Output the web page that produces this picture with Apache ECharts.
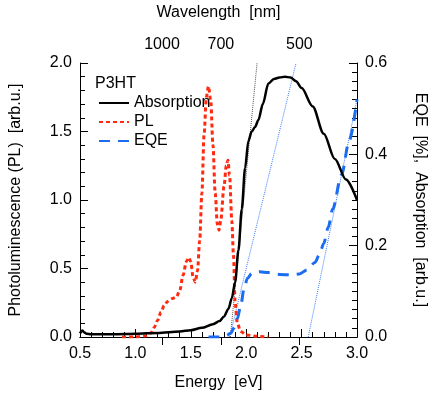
<!DOCTYPE html>
<html>
<head>
<meta charset="utf-8">
<script src="https://cdn.jsdelivr.net/npm/echarts@6/dist/echarts.min.js"></script>
<style>
  html, body { margin: 0; padding: 0; background: #fff; }
  #chart { width: 436px; height: 397px; }
</style>
</head>
<body>
<div id="chart"></div>
<script>
// absorption (right axis)
var absEnergy = [0.5, 0.52, 0.54, 0.56, 0.6, 0.8, 1.0, 1.2, 1.4, 1.5, 1.6, 1.7, 1.76, 1.8, 1.84, 1.87, 1.9, 1.93, 1.96, 1.99, 2.02, 2.05, 2.08, 2.11, 2.15, 2.2, 2.25, 2.3, 2.35, 2.4, 2.45, 2.5, 2.6, 2.7, 2.8, 2.9, 3.0];
var absValue = [0.008, 0.014, 0.01, 0.007, 0.006, 0.006, 0.007, 0.009, 0.012, 0.015, 0.02, 0.028, 0.035, 0.045, 0.062, 0.085, 0.12, 0.19, 0.28, 0.37, 0.43, 0.45, 0.46, 0.475, 0.51, 0.555, 0.565, 0.568, 0.57, 0.568, 0.56, 0.545, 0.505, 0.445, 0.39, 0.345, 0.30];

// photoluminescence (left axis)
var plEnergy = [0.88, 1.0, 1.1, 1.14, 1.17, 1.2, 1.23, 1.26, 1.29, 1.33, 1.37, 1.4, 1.43, 1.46, 1.48, 1.5, 1.52, 1.54, 1.56, 1.58, 1.6, 1.62, 1.64, 1.66, 1.68, 1.7, 1.72, 1.74, 1.755, 1.77, 1.8, 1.82, 1.835, 1.85, 1.87, 1.885, 1.9, 1.92, 1.95, 2.0, 2.1, 2.2];
var plValue = [0, 0, 0.01, 0.03, 0.07, 0.12, 0.18, 0.23, 0.26, 0.28, 0.29, 0.34, 0.45, 0.55, 0.58, 0.55, 0.44, 0.40, 0.48, 0.7, 1.05, 1.48, 1.75, 1.83, 1.72, 1.4, 1.05, 0.82, 0.78, 0.85, 1.1, 1.25, 1.29, 1.18, 0.85, 0.6, 0.25, 0.1, 0.04, 0.015, 0.005, 0];

// EQE (right axis)
var eqeEnergy = [1.66, 1.75, 1.82, 1.86, 1.89, 1.92, 1.95, 1.98, 2.01, 2.05, 2.12, 2.2, 2.3, 2.4, 2.48, 2.55, 2.62, 2.66, 2.7, 2.74, 2.78, 2.86, 2.93, 3.0];
var eqeValue = [0, 0, 0.003, 0.008, 0.02, 0.04, 0.068, 0.105, 0.128, 0.139, 0.143, 0.141, 0.137, 0.136, 0.138, 0.147, 0.163, 0.18, 0.205, 0.24, 0.28, 0.355, 0.43, 0.52];

// onset tangents [E, value]
var absTangent = [[1.857, 0], [2.098, 0.6]];
var eqeTangent1 = [[1.85, 0], [2.45, 0.6]];
var eqeTangent2 = [[2.56, 0], [3.0, 0.52]];

var wavelengthTicks = [1000, 700, 500];

function pairs(xs, ys) {
  return xs.map(function (x, i) { return [x, ys[i]] })
}

var font = 'Liberation Sans, Arial, sans-serif';
var chart = echarts.init(document.getElementById('chart'));

var tickStyle = { inside: true, length: 8, lineStyle: { color: '#000', width: 1 } };
var minorStyle = { show: true, splitNumber: 5, length: 5, lineStyle: { color: '#000', width: 1 } };

var option = {
  animation: false,
  textStyle: { fontFamily: font },
  title: {
    text: 'P3HT', left: 90, top: 71,
    textStyle: { fontFamily: font, fontSize: 16, fontWeight: 'normal', color: '#000' }
  },
  legend: {
    orient: 'vertical', left: 93, top: 90,
    itemWidth: 30, itemHeight: 16, itemGap: 3,
    itemStyle: { opacity: 0 },
    data: ['Absorption', 'PL', 'EQE'],
    textStyle: { fontFamily: font, fontSize: 16, color: '#000', lineHeight: 16 }
  },
  grid: { left: 77, right: 78, top: 60, bottom: 60 },
  xAxis: [
    {
      type: 'value', position: 'bottom', min: 0.5, max: 3.0, interval: 0.5,
      name: 'Energy  [eV]', nameLocation: 'middle', nameGap: 38,
      nameTextStyle: { fontSize: 16, color: '#000' },
      axisLine: { lineStyle: { color: '#000', width: 1 } },
      axisTick: tickStyle,
      minorTick: minorStyle,
      axisLabel: { fontSize: 16, color: '#000', margin: 9, formatter: function (v) { return v.toFixed(1) } },
      splitLine: { show: false }
    },
    {
      type: 'value', position: 'top', min: 0.5, max: 3.0,
      name: 'Wavelength  [nm]', nameLocation: 'middle', nameGap: 42,
      nameTextStyle: { fontSize: 16, color: '#000' },
      axisLine: { lineStyle: { color: '#000', width: 1 } },
      axisTick: {
        inside: true, length: 8, lineStyle: { color: '#000' },
        customValues: wavelengthTicks.map(function (w) { return 1240 / w })
      },
      axisLabel: {
        fontSize: 16, color: '#000', margin: 10,
        customValues: wavelengthTicks.map(function (w) { return 1240 / w }),
        formatter: function (v) { return String(Math.round(1240 / v / 100) * 100) }
      },
      splitLine: { show: false }
    }
  ],
  yAxis: [
    {
      type: 'value', position: 'left', min: 0, max: 2.0, interval: 0.5,
      name: 'Photoluminescence (PL)  [arb.u.]', nameLocation: 'middle', nameGap: 56,
      nameTextStyle: { fontSize: 16, color: '#000' },
      axisLine: { show: true, lineStyle: { color: '#000', width: 1 } },
      axisTick: tickStyle,
      minorTick: minorStyle,
      axisLabel: { fontSize: 16, color: '#000', margin: 8, formatter: function (v) { return v.toFixed(1) } },
      splitLine: { show: false }
    },
    {
      type: 'value', position: 'right', min: 0, max: 0.6, interval: 0.2,
      name: 'EQE  [%],  Absorption  [arb.u.]', nameLocation: 'middle', nameGap: 55, nameRotate: -90,
      nameTextStyle: { fontSize: 16, color: '#000' },
      axisLine: { show: true, lineStyle: { color: '#000', width: 1 } },
      axisTick: tickStyle,
      minorTick: { show: true, splitNumber: 10, length: 5, lineStyle: { color: '#000', width: 1 } },
      axisLabel: { fontSize: 16, color: '#000', margin: 8, formatter: function (v) { return v.toFixed(1) } },
      splitLine: { show: false }
    }
  ],
  series: [
    {
      name: 'Absorption', type: 'line', yAxisIndex: 1, data: pairs(absEnergy, absValue),
      symbol: 'none', smooth: 0.3, smoothMonotone: 'x', color: '#000',
      lineStyle: { color: '#000', width: 2.5 }, z: 4
    },
    {
      name: 'PL', type: 'line', yAxisIndex: 0, data: pairs(plEnergy, plValue),
      symbol: 'none', smooth: 0.3, smoothMonotone: 'x', color: '#ff2a10',
      lineStyle: { color: '#ff2a10', width: 3, type: [4, 3] }, z: 3
    },
    {
      name: 'EQE', type: 'line', yAxisIndex: 1, data: pairs(eqeEnergy, eqeValue),
      symbol: 'none', smooth: 0.3, smoothMonotone: 'x', color: '#1a6cf0',
      lineStyle: { color: '#1a6cf0', width: 3, type: [11, 8] }, z: 3
    },
    {
      type: 'line', yAxisIndex: 1, data: absTangent, symbol: 'none', silent: true,
      lineStyle: { color: '#555', width: 1, type: [1, 1] }, z: 2
    },
    {
      type: 'line', yAxisIndex: 1, data: eqeTangent1, symbol: 'none', silent: true,
      lineStyle: { color: '#3a7cff', width: 1, type: [1, 1] }, z: 2
    },
    {
      type: 'line', yAxisIndex: 1, data: eqeTangent2, symbol: 'none', silent: true,
      lineStyle: { color: '#3a7cff', width: 1, type: [1, 1] }, z: 2
    }
  ]
};

chart.setOption(option);
</script>
</body>
</html>
